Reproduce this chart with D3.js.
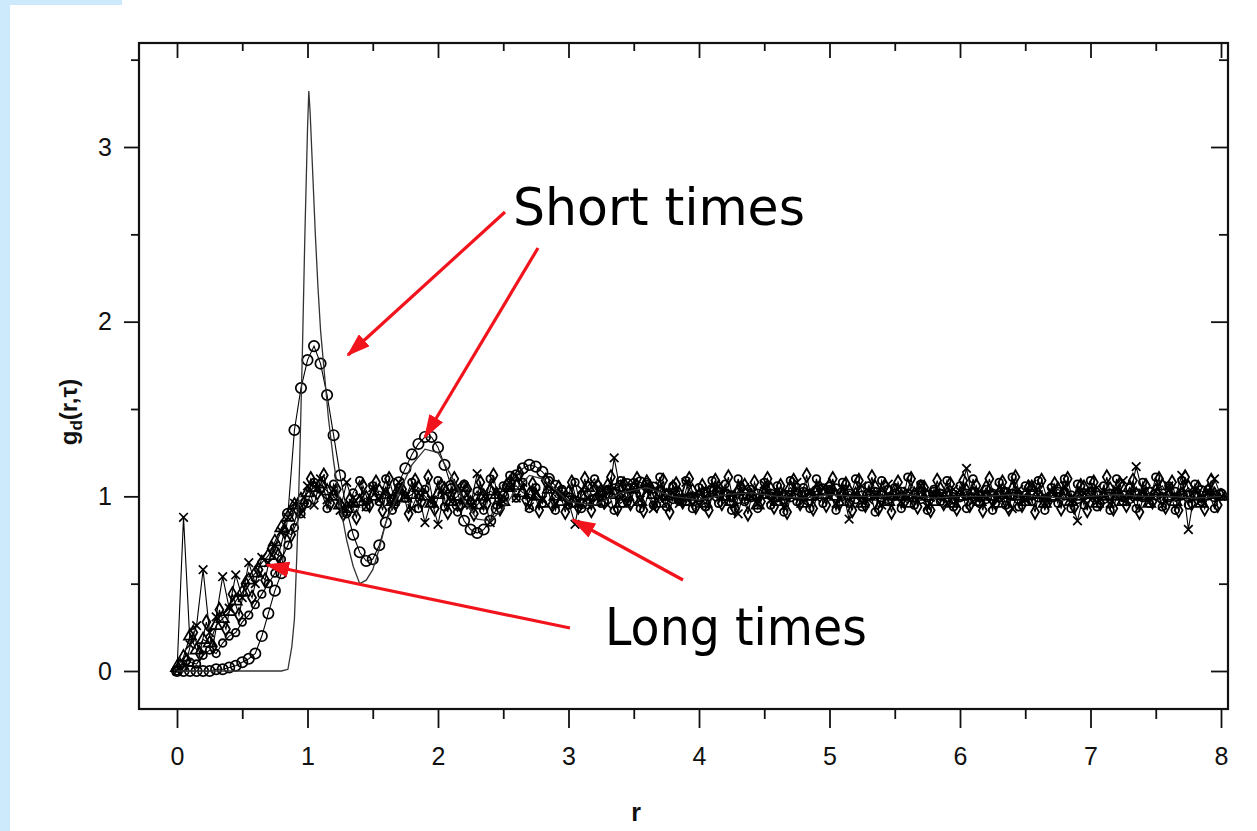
<!DOCTYPE html>
<html><head><meta charset="utf-8">
<script src="https://cdn.jsdelivr.net/npm/d3@7"></script>
<style>
  body { margin: 0; background: #fff; }
  svg { display: block; }
</style>
</head><body>
<svg id="chart" width="1257" height="831"></svg>
<script>
// ---- data -----------------------------------------------------------------
const xTicks = [0, 1, 2, 3, 4, 5, 6, 7, 8];
const yTicks = [0, 1, 2, 3];
const xMinor = [0.5, 1.5, 2.5, 3.5, 4.5, 5.5, 6.5, 7.5];
const yMinor = [0.5, 1.5, 2.5, 3.5];

// shortest delay: thin solid curve
const shortLineR = [0, 0.1, 0.2, 0.3, 0.4, 0.5, 0.6, 0.7, 0.8, 0.85, 0.88, 0.9, 0.92, 0.94, 0.96, 0.98, 1.0, 1.01, 1.02, 1.04, 1.06, 1.08, 1.1, 1.13, 1.16, 1.2, 1.25, 1.3, 1.35, 1.4, 1.45, 1.5, 1.55, 1.6, 1.7, 1.8, 1.9, 2.0, 2.1, 2.2, 2.3, 2.4, 2.5, 2.6, 2.7, 2.8, 2.9, 3.0, 3.2, 3.4, 3.6, 3.8, 4.0, 4.2, 4.4, 4.6, 4.8, 5.0, 5.2, 5.4, 5.6, 5.8, 6.0, 6.2, 6.4, 6.6, 6.8, 7.0, 7.2, 7.4, 7.6, 7.8, 8.0];
const shortLineG = [0, 0, 0, 0, 0, 0, 0, 0, 0.0, 0.01, 0.14, 0.3, 0.7, 1.2, 1.8, 2.5, 3.1, 3.32, 3.2, 2.85, 2.5, 2.2, 1.95, 1.7, 1.45, 1.2, 0.95, 0.75, 0.6, 0.5, 0.52, 0.58, 0.7, 0.85, 1.02, 1.18, 1.27, 1.25, 1.12, 0.97, 0.87, 0.86, 0.93, 1.04, 1.12, 1.1, 1.04, 0.97, 0.95, 1.02, 1.05, 1.0, 0.98, 1.01, 1.02, 1.0, 0.99, 1.01, 1.0, 1.0, 1.01, 0.99, 1.0, 1.0, 1.01, 1.0, 0.99, 1.0, 1.01, 1.0, 1.0, 0.99, 1.0];

// short delay: open circles, sampled every 0.05 in r from 0 to 8
const circlesG = [
  0.00,0.00,0.00,0.00,0.00,0.00,0.01,0.01,0.02,0.03,0.05,0.07,0.10,0.20,0.33,0.46,0.56,0.90,1.38,1.62,
  1.78,1.86,1.76,1.58,1.35,1.12,0.92,0.78,0.68,0.63,0.64,0.72,0.85,0.98,1.08,1.16,1.24,1.30,1.34,1.34,
  1.28,1.18,1.06,0.95,0.86,0.81,0.79,0.81,0.86,0.93,1.00,1.07,1.12,1.16,1.18,1.17,1.14,1.10,1.06,1.02,
  0.99,0.97,0.96,0.96,0.98,1.00,1.02,1.04,1.06,1.07,1.07,1.08,1.06,1.05,1.03,1.01,0.99,0.98,0.98,0.99,
  1.00,1.02,1.03,1.02,1.01,1.00,0.99,0.99,1.00,1.01,1.02,1.01,1.00,0.99,1.00,1.01,1.02,1.01,1.03,1.04,
  1.05,1.04,1.02,1.01,0.99,1.00,1.01,1.02,1.00,0.99,1.01,1.02,1.01,1.00,0.99,1.00,1.02,1.01,1.00,0.99,
  1.00,1.01,1.02,1.00,0.99,1.01,1.00,1.02,1.01,0.99,1.00,1.01,1.00,0.98,1.00,1.02,1.01,1.00,0.99,1.01,
  1.02,1.00,0.99,1.01,1.02,1.00,0.99,1.01,1.00,1.02,1.01,0.99,1.00,1.02,1.01,1.00,1.02,1.03,1.01,1.00,
  1.01];

// long delays: triangles, crosses and small circles on the same r grid
const trianglesG = [
  0.02,0.08,0.20,0.12,0.18,0.16,0.26,0.30,0.34,0.40,0.45,0.52,0.56,0.62,0.66,0.74,0.82,0.88,0.95,0.98,
  1.02,1.05,1.07,1.03,1.00,0.95,0.93,0.96,0.97,0.99,1.00,1.03,1.01,0.97,1.04,0.99,1.01,1.05,1.00,0.96,
  1.01,1.04,0.97,1.00,1.05,0.96,0.95,1.00,1.03,1.01,0.97,1.05,1.06,1.02,1.01,1.00,0.96,1.04,1.00,0.97,
  1.02,0.96,1.00,1.05,0.97,1.03,1.06,1.01,0.96,1.00,1.04,0.97,1.08,1.01,0.96,1.00,1.05,1.01,0.97,1.03,
  1.00,0.96,1.02,1.05,1.00,0.97,1.03,1.06,1.00,0.95,1.01,1.04,0.97,1.00,1.05,1.01,0.96,1.00,1.03,1.01,
  1.06,1.00,0.97,1.03,1.01,0.96,1.00,1.05,1.01,0.97,1.03,1.00,0.96,1.01,1.05,1.00,0.97,1.04,1.01,0.96,
  1.00,1.03,1.01,0.97,1.05,1.00,0.96,1.01,1.04,1.00,0.97,1.05,1.01,0.96,1.00,1.04,1.01,0.97,1.00,1.05,
  1.01,0.96,1.00,1.04,1.00,0.97,1.05,1.01,1.00,0.96,1.03,1.06,1.00,0.97,1.01,1.05,1.00,0.96,1.03,1.01,
  1.00];

const crossesG = [
  0.00,0.88,0.15,0.26,0.58,0.22,0.31,0.54,0.36,0.55,0.42,0.62,0.50,0.65,0.62,0.72,0.80,0.88,0.96,0.90,
  1.06,0.95,1.10,0.98,1.04,0.92,1.08,0.96,1.00,0.94,1.05,0.98,1.03,0.95,1.08,1.00,0.93,1.02,0.85,0.98,
  0.84,1.02,0.97,1.06,0.99,0.95,1.13,1.00,0.85,1.03,0.97,1.05,0.99,1.08,0.94,1.02,0.98,1.06,0.96,1.01,
  0.97,0.84,1.04,0.99,1.07,1.00,0.95,1.22,1.02,0.96,1.05,0.98,1.03,0.93,1.06,0.99,1.02,0.96,1.08,1.00,
  0.95,1.04,0.99,1.06,0.97,1.02,0.90,1.05,1.00,0.96,1.07,0.98,1.03,0.94,1.01,1.08,0.97,1.02,0.99,1.05,
  1.00,0.96,1.04,0.87,1.02,1.06,0.98,1.01,0.95,1.07,1.00,0.97,1.03,0.99,1.06,0.94,1.02,1.00,0.96,1.04,
  1.01,1.16,0.97,1.03,0.99,0.95,1.05,1.00,0.93,1.04,0.98,1.07,1.01,0.96,1.03,0.99,1.06,0.97,0.86,1.02,
  0.98,1.05,1.00,0.96,1.04,1.09,0.99,1.17,1.02,0.97,1.03,0.95,1.06,1.00,1.12,0.81,1.04,0.98,1.02,1.10,
  1.00];

const smallCirclesG = [
  0.00,0.02,0.05,0.04,0.09,0.12,0.10,0.16,0.20,0.22,0.28,0.32,0.38,0.44,0.50,0.56,0.64,0.72,0.82,0.90,
  0.96,1.08,1.04,0.93,1.07,0.95,0.90,1.02,1.09,0.94,1.06,0.97,1.10,0.92,1.05,0.99,1.08,0.93,1.04,0.96,
  1.09,0.94,1.05,0.91,1.07,0.97,1.03,0.92,1.10,0.95,1.06,1.12,0.99,1.08,0.93,1.05,0.96,1.09,0.92,1.04,
  0.95,1.08,0.93,1.06,1.10,0.96,1.04,0.92,1.09,0.97,1.05,0.93,1.08,0.95,1.11,0.94,1.06,0.98,1.09,0.93,
  1.05,0.94,1.09,0.96,1.07,0.92,1.10,0.97,1.04,0.93,1.08,0.95,1.06,0.91,1.09,0.97,1.05,0.93,1.10,0.96,
  1.04,0.92,1.08,0.96,1.10,0.94,1.06,0.91,1.09,0.97,1.05,0.93,1.11,0.95,1.07,0.92,1.04,0.97,1.09,0.94,
  1.06,0.93,1.10,0.96,1.04,0.92,1.08,0.95,1.11,0.94,1.06,0.97,1.09,0.92,1.05,0.96,1.10,0.93,1.07,0.95,
  1.09,0.94,1.06,0.92,1.10,0.97,1.05,0.93,1.08,0.96,1.11,0.94,1.06,0.92,1.09,0.95,1.07,0.97,1.04,0.93,
  1.02];

// long delay: diamonds, sampled midway between the grid points (r = 0.025 ... 7.975)
const diamondsG = [
  0.03,0.06,0.22,0.10,0.28,0.14,0.35,0.24,0.44,0.32,0.50,0.42,0.58,0.52,0.70,0.66,0.80,0.78,0.92,0.96,
  1.10,1.02,1.12,0.96,1.04,0.90,0.98,0.88,1.06,0.95,1.08,0.92,1.10,0.96,1.04,0.90,1.09,0.97,1.11,0.93,
  1.06,0.91,1.10,0.95,1.04,0.90,1.08,0.96,1.12,0.93,1.06,1.10,1.13,0.98,1.07,0.92,1.09,0.95,1.05,0.91,
  1.08,0.94,1.10,0.92,1.06,0.97,1.11,0.93,1.07,0.96,1.10,0.92,1.05,0.95,1.09,0.91,1.07,0.97,1.10,0.94,
  1.06,0.92,1.09,0.96,1.11,0.93,1.05,0.90,1.08,0.97,1.10,0.94,1.06,0.91,1.09,0.96,1.12,0.93,1.05,0.95,
  1.10,0.96,1.07,0.92,1.09,0.95,1.11,0.93,1.06,0.91,1.08,0.97,1.10,0.94,1.05,0.92,1.09,0.96,1.07,0.93,
  1.09,0.95,1.06,0.92,1.10,0.96,1.08,0.93,1.11,0.95,1.05,0.91,1.09,0.97,1.07,0.93,1.10,0.94,1.06,0.92,
  1.08,0.96,1.11,0.93,1.07,0.95,1.09,0.91,1.06,0.97,1.10,0.94,1.08,0.92,1.11,0.96,1.05,0.93,1.09,0.95];

const sampleStep = 0.05;

const shortLabel = "Short times";
const longLabel = "Long times";

// ---- layout ---------------------------------------------------------------
const svg = d3.select("#chart");
const frame = { left: 139, right: 1228, top: 43, bottom: 709 };

const x = d3.scaleLinear().domain([0, 8]).range([177, 1221]);
const y = d3.scaleLinear().domain([0, 3]).range([671, 147]);

// light blue slide edge
svg.append("rect").attr("x", 0).attr("y", 0).attr("width", 10).attr("height", 831).attr("fill", "#cde9fc");
svg.append("rect").attr("x", 0).attr("y", 0).attr("width", 122).attr("height", 5).attr("fill", "#cde9fc");

const font = "'Liberation Sans', Arial, Helvetica, sans-serif";

// ---- axes -----------------------------------------------------------------
function styleAxis(g) {
  g.attr("font-size", 25).attr("font-family", font);
  g.select(".domain").remove();
  g.selectAll("line").attr("stroke", "#111").attr("stroke-width", 1.8);
  g.selectAll("text").attr("fill", "#111");
}

// bottom: outward ticks with labels
svg.append("g").attr("transform", `translate(0,${frame.bottom})`)
  .call(d3.axisBottom(x).tickValues(xTicks).tickSize(19).tickPadding(19).tickFormat(d3.format("d")))
  .call(styleAxis);
svg.append("g").attr("transform", `translate(0,${frame.bottom})`)
  .call(d3.axisBottom(x).tickValues(xMinor).tickSize(10).tickFormat(""))
  .call(styleAxis);

// left: outward ticks with labels
svg.append("g").attr("transform", `translate(${frame.left},0)`)
  .call(d3.axisLeft(y).tickValues(yTicks).tickSize(15).tickPadding(12).tickFormat(d3.format("d")))
  .call(styleAxis);
svg.append("g").attr("transform", `translate(${frame.left},0)`)
  .call(d3.axisLeft(y).tickValues(yMinor).tickSize(8).tickFormat(""))
  .call(styleAxis);

// top: inward ticks
svg.append("g").attr("transform", `translate(0,${frame.top})`)
  .call(d3.axisBottom(x).tickValues(xTicks).tickSize(15).tickFormat(""))
  .call(styleAxis);
svg.append("g").attr("transform", `translate(0,${frame.top})`)
  .call(d3.axisBottom(x).tickValues(xMinor).tickSize(8).tickFormat(""))
  .call(styleAxis);

// right: inward ticks
svg.append("g").attr("transform", `translate(${frame.right},0)`)
  .call(d3.axisLeft(y).tickValues(yTicks).tickSize(17).tickFormat(""))
  .call(styleAxis);
svg.append("g").attr("transform", `translate(${frame.right},0)`)
  .call(d3.axisLeft(y).tickValues(yMinor).tickSize(9).tickFormat(""))
  .call(styleAxis);

// frame
svg.append("rect")
  .attr("x", frame.left).attr("y", frame.top)
  .attr("width", frame.right - frame.left).attr("height", frame.bottom - frame.top)
  .attr("fill", "none").attr("stroke", "#111").attr("stroke-width", 2.2);

// axis titles
svg.append("text")
  .attr("x", 636).attr("y", 821).attr("text-anchor", "middle")
  .attr("font-family", font).attr("font-weight", "bold").attr("font-size", 25).attr("fill", "#111")
  .text("r");

const yTitle = svg.append("text")
  .attr("transform", "translate(77,412) rotate(-90)")
  .attr("text-anchor", "middle")
  .attr("font-family", font).attr("font-weight", "bold").attr("font-size", 24).attr("fill", "#111");
yTitle.append("tspan").text("g");
yTitle.append("tspan").attr("font-size", 17).attr("dy", 5).text("d");
yTitle.append("tspan").attr("dy", -5).text("(r,\u03c4)");

// ---- data series ----------------------------------------------------------
const plot = svg.append("g");
const gridR = d3.range(circlesG.length).map(i => +(i * sampleStep).toFixed(3));
const midR = d3.range(diamondsG.length).map(i => +((i + 0.5) * sampleStep).toFixed(3));
const line = d3.line().x(d => x(d[0])).y(d => y(d[1]));
const ink = "#000";

function markerSeries(rs, vals, symbolType, size, lw) {
  const pts = vals.map((v, i) => [rs[i], v]);
  plot.append("path").datum(pts).attr("d", line)
    .attr("fill", "none").attr("stroke", ink).attr("stroke-width", 1.1);
  const sym = d3.symbol().type(symbolType).size(size);
  plot.append("g").selectAll("path").data(pts).join("path")
    .attr("transform", d => `translate(${x(d[0])},${y(d[1])})`)
    .attr("d", sym)
    .attr("fill", "none").attr("stroke", ink).attr("stroke-width", lw);
}

markerSeries(midR, diamondsG, d3.symbolDiamond, 55, 1.8);
markerSeries(gridR, smallCirclesG, d3.symbolCircle, 45, 1.8);
markerSeries(gridR, trianglesG, d3.symbolTriangle, 65, 1.7);
markerSeries(gridR, crossesG, d3.symbolX, 50, 1.7);
markerSeries(gridR, circlesG, d3.symbolCircle, 85, 1.7);

// solid curve for the shortest delay
plot.append("path")
  .datum(shortLineR.map((r, i) => [r, shortLineG[i]]))
  .attr("d", line)
  .attr("fill", "none").attr("stroke", "#333").attr("stroke-width", 1.3);

// ---- annotations ----------------------------------------------------------
const red = "#f2141c";
svg.append("defs").append("marker")
  .attr("id", "head").attr("markerUnits", "userSpaceOnUse")
  .attr("viewBox", "0 0 24 16").attr("refX", 22).attr("refY", 8)
  .attr("markerWidth", 24).attr("markerHeight", 16).attr("orient", "auto")
  .append("path").attr("d", "M0,0 L24,8 L0,16 Z").attr("fill", red);

const arrows = [
  [505, 212, 348, 355],
  [538, 248, 425, 437],
  [570, 628, 267, 565],
  [683, 580, 573, 520]
];
svg.append("g").selectAll("line").data(arrows).join("line")
  .attr("x1", d => d[0]).attr("y1", d => d[1]).attr("x2", d => d[2]).attr("y2", d => d[3])
  .attr("stroke", red).attr("stroke-width", 3.2).attr("marker-end", "url(#head)");

const noteFont = "'Comic Sans MS', 'DejaVu Sans', sans-serif";
svg.append("text").attr("x", 513).attr("y", 225)
  .attr("font-family", noteFont).attr("font-size", 51).attr("fill", "#000")
  .attr("textLength", 292).attr("lengthAdjust", "spacingAndGlyphs")
  .text(shortLabel);
svg.append("text").attr("x", 605).attr("y", 645)
  .attr("font-family", noteFont).attr("font-size", 52).attr("fill", "#000")
  .attr("textLength", 262).attr("lengthAdjust", "spacingAndGlyphs")
  .text(longLabel);
</script>
</body></html>
